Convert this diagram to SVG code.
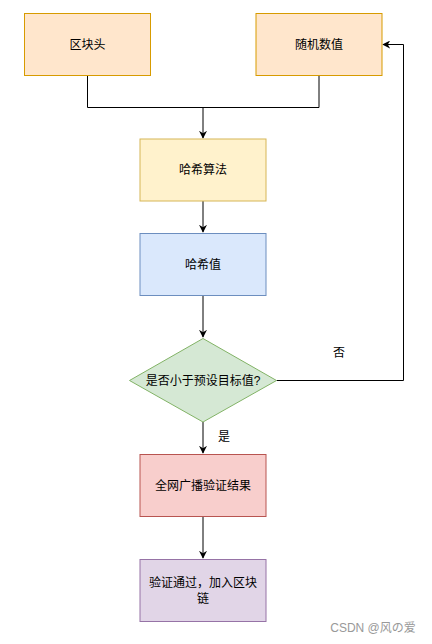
<svg xmlns="http://www.w3.org/2000/svg" width="432" height="644" viewBox="0 0 432 644">
<defs>
<marker id="arr" viewBox="0 0 10 10" refX="9" refY="5" markerWidth="8" markerHeight="8" markerUnits="userSpaceOnUse" orient="auto">
<path d="M0,0 L10,5 L0,10 L3,5 Z" fill="#000"/>
</marker>
<style>
text{font-family:"Liberation Sans","Noto Sans CJK SC",sans-serif;font-size:12px;fill:#000;text-anchor:middle;dominant-baseline:central}
.c{fill:none;stroke:#000;stroke-width:1}
</style>
</defs>
<rect width="432" height="644" fill="#fff"/>
<g id="connectors">
<path class="c" d="M87.5,76 V107.5 H319 V76"/>
<path class="c" d="M203,107.5 V138" marker-end="url(#arr)"/>
<path class="c" d="M203,201 V232" marker-end="url(#arr)"/>
<path class="c" d="M203,296 V337" marker-end="url(#arr)"/>
<path class="c" d="M203,422 V453" marker-end="url(#arr)"/>
<path class="c" d="M203,517 V558" marker-end="url(#arr)"/>
<path class="c" d="M276.5,380.5 H403.5 V44.5 H383" marker-end="url(#arr)"/>
<text x="339" y="353">否</text>
<text x="224" y="437">是</text>
</g>
<g id="block-header">
<rect x="24.5" y="13.5" width="126" height="62" fill="#ffe6cc" stroke="#d79b00"/>
<text x="87.5" y="44.5">区块头</text>
</g>
<g id="random-number">
<rect x="256" y="13.5" width="126" height="62" fill="#ffe6cc" stroke="#d79b00"/>
<text x="319" y="44.5">随机数值</text>
</g>
<g id="hash-algo">
<rect x="140" y="139" width="126" height="62" fill="#fff2cc" stroke="#d6b656"/>
<text x="203" y="170">哈希算法</text>
</g>
<g id="hash-value">
<rect x="140" y="233.5" width="126" height="62" fill="#dae8fc" stroke="#6c8ebf"/>
<text x="203" y="264.5">哈希值</text>
</g>
<g id="decision">
<polygon points="203,338.5 276.5,380.5 203,422 129.5,380.5" fill="#d5e8d4" stroke="#82b366"/>
<text x="203" y="380.5">是否小于预设目标值?</text>
</g>
<g id="broadcast">
<rect x="140" y="454.5" width="126" height="62" fill="#f8cecc" stroke="#b85450"/>
<text x="203" y="485.5">全网广播验证结果</text>
</g>
<g id="verified">
<rect x="140" y="559.5" width="126" height="62" fill="#e1d5e7" stroke="#9673a6"/>
<text x="203" y="583">验证通过，加入区块</text>
<text x="203" y="599">链</text>
</g>
<text x="373" y="628" style="fill:#999;font-size:12px">CSDN @风の爱</text>
</svg>
